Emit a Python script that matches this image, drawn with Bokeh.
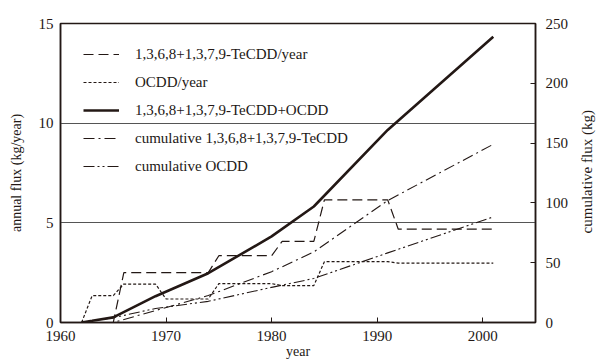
import math
from bokeh.plotting import figure
from bokeh.layouts import row
from bokeh.models import (Range1d, LinearAxis, FixedTicker, Legend, LegendItem, Label)
from bokeh.embed import file_html
from bokeh.resources import INLINE

# annual flux (kg/year)
te_years = [1962, 1965, 1966, 1974, 1975, 1980, 1981, 1984, 1985, 1991, 1992, 2001]
te_annual = [0, 0, 2.5, 2.5, 3.35, 3.35, 4.07, 4.07, 6.15, 6.15, 4.68, 4.68]

oc_years = [1962, 1963, 1965, 1966, 1969, 1970, 1974, 1975, 1980, 1981, 1984, 1985, 1991, 1992, 2001]
oc_annual = [0, 1.35, 1.35, 1.93, 1.93, 1.18, 1.18, 1.95, 1.95, 1.85, 1.85, 3.05, 3.05, 2.98, 2.98]

# cumulative flux (kg)
cte_years = [1962, 1965, 1974, 1980, 1984, 1991, 2001]
cum_te = [0, 0, 22.5, 42.5, 59, 102, 149]

coc_years = [1962, 1963, 1965, 1969, 1974, 1980, 1984, 1991, 2001]
cum_oc = [0, 1.4, 4.0, 11.7, 17.7, 29.4, 36.8, 58.2, 88.3]

tot_years = [1962, 1963, 1965, 1969, 1974, 1980, 1984, 1991, 2001]
cum_total = [0, 1.4, 4.3, 22.0, 41.2, 72.0, 97.0, 161.0, 239.0]

labels = ["1,3,6,8+1,3,7,9-TeCDD/year", "OCDD/year", "1,3,6,8+1,3,7,9-TeCDD+OCDD",
          "cumulative 1,3,6,8+1,3,7,9-TeCDD", "cumulative OCDD"]

FONT = "Liberation Serif"
INK = "#231815"

p = figure(width=571, height=363, output_backend="svg", toolbar_location=None,
           x_range=Range1d(1960, 2005), y_range=Range1d(0, 15),
           min_border_left=60, min_border_right=36, min_border_top=23, min_border_bottom=41)
p.extra_y_ranges = {"cum": Range1d(0, 250)}

p.outline_line_color = INK
p.outline_line_width = 1.5
p.background_fill_color = "white"
p.border_fill_color = "white"

p.xgrid.visible = False
p.ygrid.ticker = FixedTicker(ticks=[5, 10])
p.ygrid.grid_line_color = "#555555"
p.ygrid.grid_line_width = 1

xa = p.xaxis[0]
xa.ticker = FixedTicker(ticks=[1960, 1970, 1980, 1990, 2000])
xa.major_tick_in = 5
xa.major_tick_out = 0
xa.minor_tick_line_color = None
xa.major_label_standoff = 8
xa.axis_line_color = INK
xa.axis_line_width = 1.5
xa.major_tick_line_color = INK
xa.major_label_text_font = FONT
xa.major_label_text_font_size = "15px"
xa.major_label_text_color = INK
xa.axis_label = "year"
xa.axis_label_text_font = FONT
xa.axis_label_text_font_style = "normal"
xa.axis_label_text_font_size = "14px"
xa.axis_label_text_color = INK
xa.axis_label_standoff = 0

ya = p.yaxis[0]
ya.ticker = FixedTicker(ticks=[0, 5, 10, 15])
ya.major_tick_in = 0
ya.major_tick_out = 0
ya.minor_tick_line_color = None
ya.major_label_standoff = 7
ya.axis_line_color = INK
ya.axis_line_width = 1.5
ya.major_label_text_font = FONT
ya.major_label_text_font_size = "15px"
ya.major_label_text_color = INK
ya.axis_label = "annual flux (kg/year)"
ya.axis_label_text_font = FONT
ya.axis_label_text_font_style = "normal"
ya.axis_label_text_font_size = "14px"
ya.axis_label_text_color = INK
ya.axis_label_standoff = 12

ra = LinearAxis(y_range_name="cum", ticker=FixedTicker(ticks=[0, 50, 100, 150, 200, 250]))
ra.major_tick_in = 5
ra.major_tick_out = 0
ra.minor_tick_line_color = None
ra.major_label_standoff = 10
ra.axis_line_color = INK
ra.axis_line_width = 1.5
ra.major_tick_line_color = INK
ra.major_label_text_font = FONT
ra.major_label_text_font_size = "15px"
ra.major_label_text_color = INK
p.add_layout(ra, "right")

r1 = p.line(te_years, te_annual, line_color=INK, line_width=1.2, line_dash="10 5")
r2 = p.line(oc_years, oc_annual, line_color=INK, line_width=1.2, line_dash="3 2")
r3 = p.line(tot_years, cum_total, y_range_name="cum", line_color=INK, line_width=2.6)
r4 = p.line(cte_years, cum_te, y_range_name="cum", line_color=INK, line_width=1.1,
            line_dash="11 4 2 4")
r5 = p.line(coc_years, cum_oc, y_range_name="cum", line_color=INK, line_width=1.1,
            line_dash="11 3 2 3 2 3")

legend = Legend(items=[LegendItem(label=l, renderers=[r]) for l, r in zip(labels, [r1, r2, r3, r4, r5])],
                location=(23, 146), padding=0, margin=0, spacing=8,
                glyph_width=36, glyph_height=20, label_height=20, label_standoff=16,
                label_text_font=FONT, label_text_font_size="15px", label_text_color=INK,
                border_line_color=None, background_fill_alpha=0)
p.add_layout(legend)

# narrow side panel carrying the right-axis title, reading bottom to top
p2 = figure(width=25, height=363, output_backend="svg", toolbar_location=None,
            x_range=Range1d(0, 25), y_range=Range1d(0, 363),
            min_border_left=0, min_border_right=0, min_border_top=0, min_border_bottom=0)
p2.xaxis.visible = False
p2.yaxis.visible = False
p2.xgrid.visible = False
p2.ygrid.visible = False
p2.outline_line_color = None
p2.background_fill_color = "white"
p2.border_fill_color = "white"
p2.add_layout(Label(x=15, y=183, text="cumulative flux (kg)", angle=math.pi / 2,
                    text_align="center", text_baseline="middle", text_font=FONT,
                    text_font_size="15px", text_color=INK))

layout = row(p, p2, spacing=0)
open("out.html", "w").write(file_html(layout, INLINE))
